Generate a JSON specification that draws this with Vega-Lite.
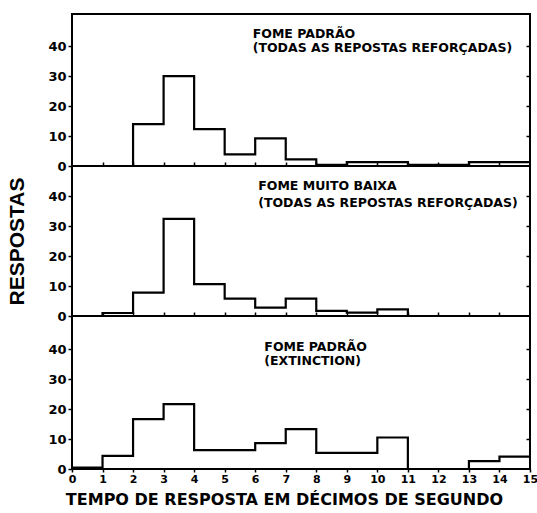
{
  "$schema": "https://vega.github.io/schema/vega-lite/v6.json",
  "padding": {"left": 5, "top": 13, "right": 0, "bottom": 5},
  "background": "white",
  "spacing": 0,
  "bounds": "flush",
  "config": {
    "view": {"stroke": "black", "strokeWidth": 2},
    "axis": {
      "labelFont": "DejaVu Sans", "labelFontWeight": "bold", "labelFontSize": 12, "labelColor": "black",
      "tickColor": "black", "tickWidth": 1.5, "domain": false, "grid": false,
      "titleColor": "black", "labelOverlap": false, "labelFlush": false
    }
  },
  "datasets": {
    "hist": [
      {"panel": 1, "x": 0, "count": 0}, {"panel": 1, "x": 1, "count": 0}, {"panel": 1, "x": 2, "count": 14},
      {"panel": 1, "x": 3, "count": 30}, {"panel": 1, "x": 4, "count": 12.3}, {"panel": 1, "x": 5, "count": 3.9},
      {"panel": 1, "x": 6, "count": 9.2}, {"panel": 1, "x": 7, "count": 2.2}, {"panel": 1, "x": 8, "count": 0.4},
      {"panel": 1, "x": 9, "count": 1.3}, {"panel": 1, "x": 10, "count": 1.3}, {"panel": 1, "x": 11, "count": 0.4},
      {"panel": 1, "x": 12, "count": 0.4}, {"panel": 1, "x": 13, "count": 1.3}, {"panel": 1, "x": 14, "count": 1.3},
      {"panel": 1, "x": 15, "count": 1.3},
      {"panel": 2, "x": 0, "count": 0}, {"panel": 2, "x": 1, "count": 1}, {"panel": 2, "x": 2, "count": 7.8},
      {"panel": 2, "x": 3, "count": 32.4}, {"panel": 2, "x": 4, "count": 10.6}, {"panel": 2, "x": 5, "count": 5.8},
      {"panel": 2, "x": 6, "count": 2.8}, {"panel": 2, "x": 7, "count": 5.8}, {"panel": 2, "x": 8, "count": 1.7},
      {"panel": 2, "x": 9, "count": 1.1}, {"panel": 2, "x": 10, "count": 2.2}, {"panel": 2, "x": 11, "count": 0},
      {"panel": 2, "x": 12, "count": 0}, {"panel": 2, "x": 13, "count": 0}, {"panel": 2, "x": 14, "count": 0},
      {"panel": 2, "x": 15, "count": 0},
      {"panel": 3, "x": 0, "count": 0.5}, {"panel": 3, "x": 1, "count": 4.4}, {"panel": 3, "x": 2, "count": 16.6},
      {"panel": 3, "x": 3, "count": 21.6}, {"panel": 3, "x": 4, "count": 6.3}, {"panel": 3, "x": 5, "count": 6.3},
      {"panel": 3, "x": 6, "count": 8.6}, {"panel": 3, "x": 7, "count": 13.3}, {"panel": 3, "x": 8, "count": 5.4},
      {"panel": 3, "x": 9, "count": 5.4}, {"panel": 3, "x": 10, "count": 10.5}, {"panel": 3, "x": 11, "count": 0},
      {"panel": 3, "x": 12, "count": 0}, {"panel": 3, "x": 13, "count": 2.6}, {"panel": 3, "x": 14, "count": 4.1},
      {"panel": 3, "x": 15, "count": 4.1}
    ],
    "labels": [
      {"panel": 1, "x": 5.92, "y": 44, "label": "FOME PADRÃO"},
      {"panel": 1, "x": 5.92, "y": 39.3, "label": "(TODAS AS REPOSTAS REFORÇADAS)"},
      {"panel": 2, "x": 6.1, "y": 43.3, "label": "FOME MUITO BAIXA"},
      {"panel": 2, "x": 6.1, "y": 37.7, "label": "(TODAS AS REPOSTAS REFORÇADAS)"},
      {"panel": 3, "x": 6.3, "y": 40.8, "label": "FOME PADRÃO"},
      {"panel": 3, "x": 6.3, "y": 36, "label": "(EXTINCTION)"}
    ]
  },
  "vconcat": [
    {
      "width": 458, "height": 152,
      "encoding": {
        "x": {"field": "x", "type": "quantitative", "scale": {"domain": [0, 15], "nice": false},
              "axis": {"title": null, "labels": false, "values": [1,2,3,4,5,6,7,8,9,10,11,12,13,14], "tickSize": -4}}
      },
      "layer": [
        {
          "data": {"name": "hist"}, "transform": [{"filter": "datum.panel == 1"}],
          "mark": {"type": "line", "interpolate": "step-after", "color": "black", "strokeWidth": 2.2},
          "encoding": {
            "y": {"field": "count", "type": "quantitative", "scale": {"domain": [0, 50.7], "nice": false},
                  "axis": {"title": null, "values": [0, 10, 20, 30, 40], "tickSize": 4, "labelPadding": 2, "labelFontSize": 13}}
          }
        },
        {
          "data": {"name": "labels"}, "transform": [{"filter": "datum.panel == 1"}],
          "mark": {"type": "text", "align": "left", "baseline": "middle", "font": "DejaVu Sans", "fontWeight": "bold", "fontSize": 12.5, "color": "black"},
          "encoding": {
            "y": {"field": "y", "type": "quantitative", "axis": {"orient": "right", "title": null, "labels": false, "values": [10, 20, 30, 40], "tickSize": -4}},
            "text": {"field": "label"}
          }
        }
      ],
      "resolve": {"axis": {"y": "independent"}}
    },
    {
      "width": 458, "height": 150,
      "encoding": {
        "x": {"field": "x", "type": "quantitative", "scale": {"domain": [0, 15], "nice": false},
              "axis": {"title": null, "labels": false, "values": [1,2,3,4,5,6,7,8,9,10,11,12,13,14], "tickSize": -4}}
      },
      "layer": [
        {
          "data": {"name": "hist"}, "transform": [{"filter": "datum.panel == 2"}],
          "mark": {"type": "line", "interpolate": "step-after", "color": "black", "strokeWidth": 2.2},
          "encoding": {
            "y": {"field": "count", "type": "quantitative", "scale": {"domain": [0, 50], "nice": false},
                  "axis": {"title": "RESPOSTAS", "titleFont": "Liberation Sans", "titleFontSize": 21, "titleFontWeight": "bold", "titlePadding": 20,
                           "values": [0, 10, 20, 30, 40], "tickSize": 4, "labelPadding": 2, "labelFontSize": 13}}
          }
        },
        {
          "data": {"name": "labels"}, "transform": [{"filter": "datum.panel == 2"}],
          "mark": {"type": "text", "align": "left", "baseline": "middle", "font": "DejaVu Sans", "fontWeight": "bold", "fontSize": 12.5, "color": "black"},
          "encoding": {
            "y": {"field": "y", "type": "quantitative", "axis": {"orient": "right", "title": null, "labels": false, "values": [10, 20, 30, 40], "tickSize": -4}},
            "text": {"field": "label"}
          }
        }
      ],
      "resolve": {"axis": {"y": "independent"}}
    },
    {
      "width": 458, "height": 153,
      "encoding": {
        "x": {"field": "x", "type": "quantitative", "scale": {"domain": [0, 15], "nice": false},
              "axis": {"title": "TEMPO DE RESPOSTA EM DÉCIMOS DE SEGUNDO", "titleFont": "DejaVu Sans", "titleFontSize": 16, "titleFontWeight": "bold", "titlePadding": 7, "titleX": 212,
                       "values": [0,1,2,3,4,5,6,7,8,9,10,11,12,13,14,15], "tickSize": 3, "labelPadding": 1, "labelFontSize": 11}}
      },
      "layer": [
        {
          "data": {"name": "hist"}, "transform": [{"filter": "datum.panel == 3"}],
          "mark": {"type": "line", "interpolate": "step-after", "color": "black", "strokeWidth": 2.2},
          "encoding": {
            "y": {"field": "count", "type": "quantitative", "scale": {"domain": [0, 51], "nice": false},
                  "axis": {"title": null, "values": [0, 10, 20, 30, 40], "tickSize": 4, "labelPadding": 2, "labelFontSize": 13}}
          }
        },
        {
          "data": {"name": "labels"}, "transform": [{"filter": "datum.panel == 3"}],
          "mark": {"type": "text", "align": "left", "baseline": "middle", "font": "DejaVu Sans", "fontWeight": "bold", "fontSize": 12.5, "color": "black"},
          "encoding": {
            "y": {"field": "y", "type": "quantitative", "axis": {"orient": "right", "title": null, "labels": false, "values": [10, 20, 30, 40], "tickSize": -4}},
            "text": {"field": "label"}
          }
        }
      ],
      "resolve": {"axis": {"y": "independent"}}
    }
  ]
}
